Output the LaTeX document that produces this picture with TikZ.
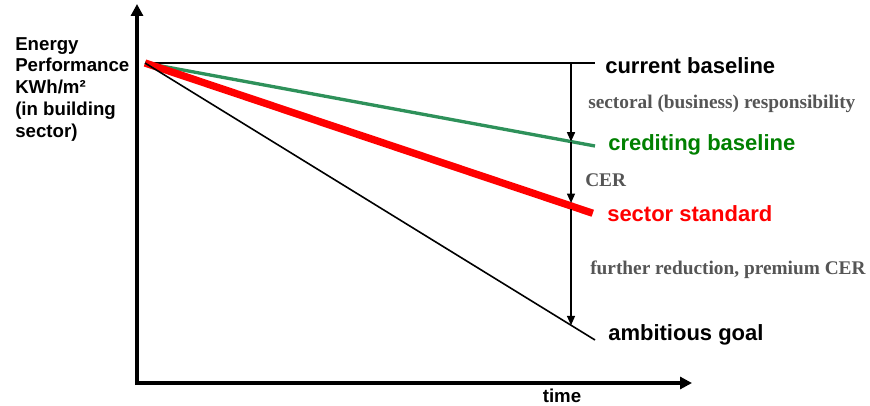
\documentclass[tikz,border=0pt]{standalone}
\usepackage{fontspec}
\setmainfont{Liberation Serif}
\setsansfont{Liberation Sans}
\usetikzlibrary{calc,arrows.meta}
\definecolor{lgreen}{RGB}{46,145,90}
\definecolor{tgreen}{RGB}{0,128,0}
\definecolor{tred}{RGB}{255,0,0}
\definecolor{tgray}{RGB}{85,85,85}
\begin{document}
\begin{tikzpicture}[x=0.75pt,y=-0.75pt,
  axis/.style={line width=3pt,-{Triangle[length=9pt,width=9pt]}},
  big/.style={font=\sffamily\bfseries\fontsize{16.5}{18}\selectfont,anchor=west,inner sep=0pt},
  note/.style={font=\rmfamily\bfseries\fontsize{14.5}{16}\selectfont,text=tgray,anchor=west,inner sep=0pt},
  dimarrow/.style={line width=1pt,-{Triangle[length=7pt,width=6pt]}}]
\useasboundingbox (0,0) rectangle (870,406);
\coordinate (corner) at (137,383);
\coordinate (ytip) at (137,4);
\coordinate (xtip) at (692,383);
\draw[axis] ($(corner)+(0,2)$) -- (ytip);
\draw[axis] ($(corner)+(-2,0)$) -- (xtip);
\coordinate (O) at (145,63);
\coordinate (cEnd) at (595,63);
\coordinate (gEnd) at (595,146);
\coordinate (rEnd) at (595,214);
\coordinate (aEnd) at (595,340);
\draw[line width=1.5pt] (O) -- (cEnd);
\draw[line width=2.5pt,lgreen] (O) -- (gEnd);
\draw[line width=5.5pt,tred] (O) -- ($(O)!0.995!(rEnd)$);
\draw[line width=1.2pt] (O) -- (aEnd);
\coordinate (c1) at ($(O)!0.9467!(cEnd)$);
\coordinate (g1) at ($(O)!0.9467!(gEnd)$);
\coordinate (r1) at ($(O)!0.9467!(rEnd)$);
\coordinate (a1) at ($(O)!0.9467!(aEnd)$);
\draw[dimarrow] (c1) -- (g1);
\draw[dimarrow] (g1) -- ($(r1)+(0,-3)$);
\draw[dimarrow] ($(r1)+(0,3)$) -- (a1);
\node[big] (lc) at (605,66) {current baseline};
\node[big,text=tgreen] (lg) at (608,145) {crediting baseline};
\node[big,text=tred] (lr) at (607,214) {sector standard};
\node[big] (la) at (608,335) {ambitious goal};
\node[note] (n1) at (588,104) {sectoral (business) responsibility};
\node[note] (n2) at (585,180) {CER};
\node[note] (n3) at (590,270) {further reduction, premium CER};
\node[font=\sffamily\bfseries\fontsize{14}{16.4}\selectfont,anchor=north west,inner sep=0pt,align=left] (ylab) at (15,37) {Energy\\Performance\\KWh/m²\\(in building\\sector)};
\node[font=\sffamily\bfseries\fontsize{14}{16}\selectfont,inner sep=0pt] (tl) at (562,396) {time};
\end{tikzpicture}
\end{document}
